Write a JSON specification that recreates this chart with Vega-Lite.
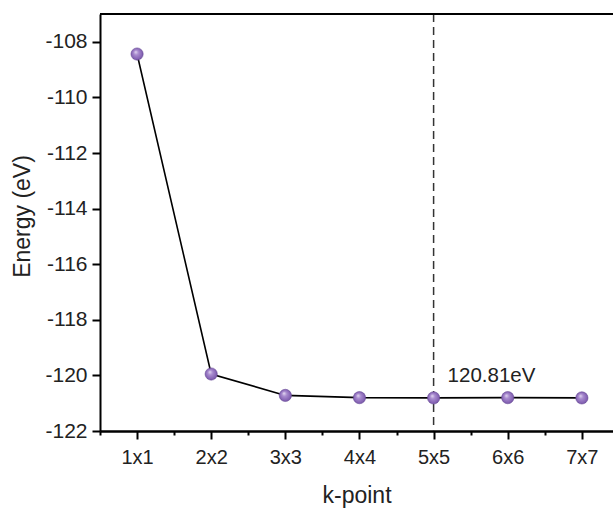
{
  "$schema": "https://vega.github.io/schema/vega-lite/v6.json",
  "autosize": {"type": "none"},
  "width": 513,
  "height": 417,
  "padding": {"left": 100, "top": 14, "right": 0, "bottom": 78},
  "background": "white",
  "config": {
    "view": {"stroke": null},
    "font": "Liberation Sans",
    "axis": {
      "domainColor": "black",
      "domainWidth": 2,
      "tickColor": "black",
      "tickWidth": 2,
      "labelFont": "Liberation Sans",
      "labelFontSize": 20,
      "labelColor": "#222",
      "titleFont": "Liberation Sans",
      "titleFontSize": 23,
      "titleFontWeight": "normal",
      "titleColor": "#222",
      "grid": false
    }
  },
  "datasets": {
    "pts": [
      {"k": 1, "E": -108.44},
      {"k": 2, "E": -119.95},
      {"k": 3, "E": -120.72},
      {"k": 4, "E": -120.80},
      {"k": 5, "E": -120.81},
      {"k": 6, "E": -120.80},
      {"k": 7, "E": -120.81}
    ],
    "note": [{"k": 5, "E": -120.81, "label": "120.81eV"}]
  },
  "resolve": {"axis": {"x": "independent"}},
  "layer": [
    {
      "data": {"name": "note"},
      "mark": {"type": "rule", "strokeDash": [8, 5], "strokeWidth": 1.5, "color": "#333"},
      "encoding": {
        "x": {
          "field": "k",
          "type": "quantitative",
          "scale": {"domain": [0.5, 7.42], "nice": false, "zero": false},
          "axis": {
            "orient": "bottom",
            "title": null,
            "values": [0.5, 1.5, 2.5, 3.5, 4.5, 5.5, 6.5],
            "labels": false,
            "tickSize": 4,
            "domainWidth": 2
          }
        }
      }
    },
    {
      "data": {"name": "pts"},
      "mark": {"type": "line", "color": "black", "strokeWidth": 1.6},
      "encoding": {
        "x": {
          "field": "k",
          "type": "quantitative",
          "scale": {"domain": [0.5, 7.42], "nice": false, "zero": false},
          "axis": {
            "orient": "bottom",
            "title": "k-point",
            "values": [1, 2, 3, 4, 5, 6, 7],
            "labelExpr": "datum.value + 'x' + datum.value",
            "labelOverlap": false,
            "labelFlush": false,
            "tickSize": 8,
            "labelPadding": 8,
            "titleY": 71,
            "titleBaseline": "alphabetic"
          }
        },
        "y": {
          "field": "E",
          "type": "quantitative",
          "scale": {"domain": [-122, -107], "nice": false, "zero": false},
          "axis": {
            "title": "Energy (eV)",
            "values": [-122, -121, -120, -119, -118, -117, -116, -115, -114, -113, -112, -111, -110, -109, -108],
            "labelExpr": "datum.value % 2 == 0 ? '' + datum.value : ''",
            "labelOverlap": false,
            "labelFontSize": 21,
            "tickSize": {"condition": {"test": "datum.value % 2 == 0", "value": 8}, "value": 4},
            "labelPadding": 5,
            "titleX": -71,
            "titleY": 202,
            "titleBaseline": "alphabetic",
            "titleAngle": -90
          }
        }
      }
    },
    {
      "data": {"name": "pts"},
      "mark": {
        "type": "point",
        "filled": true,
        "size": 150,
        "opacity": 1,
        "stroke": "#6a4c98",
        "strokeWidth": 0.6,
        "fill": {
          "gradient": "radial",
          "x1": 0.38, "y1": 0.32, "r1": 0,
          "x2": 0.5, "y2": 0.5, "r2": 0.55,
          "stops": [
            {"offset": 0, "color": "#e6dcf3"},
            {"offset": 0.35, "color": "#a98ccf"},
            {"offset": 0.8, "color": "#8563b4"},
            {"offset": 1, "color": "#6b4c9a"}
          ]
        }
      },
      "encoding": {
        "x": {"field": "k", "type": "quantitative", "axis": null},
        "y": {"field": "E", "type": "quantitative"}
      }
    },
    {
      "data": {"name": "note"},
      "mark": {"type": "text", "align": "left", "baseline": "alphabetic", "dx": 14, "dy": -16, "fontSize": 20.5, "font": "Liberation Sans", "color": "#222"},
      "encoding": {
        "x": {"field": "k", "type": "quantitative", "axis": null},
        "y": {"field": "E", "type": "quantitative"},
        "text": {"field": "label"}
      }
    },
    {
      "data": {"values": [{"top": -107}]},
      "mark": {"type": "rule", "color": "black", "strokeWidth": 2},
      "encoding": {
        "y": {"field": "top", "type": "quantitative"}
      }
    }
  ]
}
